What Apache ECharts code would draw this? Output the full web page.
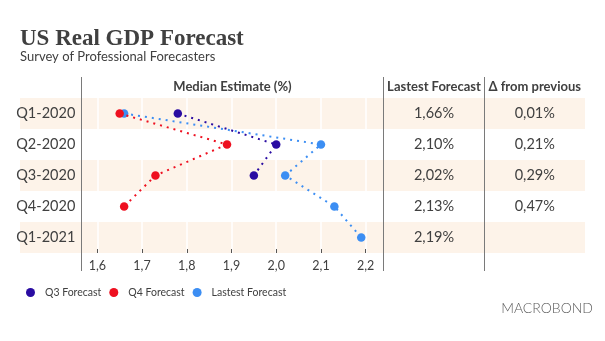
<!DOCTYPE html>
<html>
<head>
<meta charset="utf-8">
<script src="https://cdn.jsdelivr.net/npm/echarts@6/dist/echarts.min.js"></script>
<style>
  html, body { margin: 0; padding: 0; background: #ffffff; }
  #chart { width: 605px; height: 341px; }
</style>
</head>
<body>
<div id="chart"></div>
<script>
// Quarters shown as table rows
const quarters = ['Q1-2020', 'Q2-2020', 'Q3-2020', 'Q4-2020', 'Q1-2021'];

// Median estimates (%) from each survey round
const q3Forecast = [1.78, 2.00, 1.95, null, null];
const q4Forecast = [1.65, 1.89, 1.73, 1.66, null];
const latestForecast = [1.66, 2.10, 2.02, 2.13, 2.19];

// Change of latest forecast versus previous round
const deltaFromPrevious = [0.01, 0.21, 0.29, 0.47, null];

// Value axis ticks
const axisTicks = [1.6, 1.7, 1.8, 1.9, 2.0, 2.1, 2.2];

const TEXT = '#404040';
const BAND = '#fdf3e9';
const FONT = 'Lato, "Noto Sans", sans-serif';
const COL = { COLOR_Q3: '#2a0ca2', COLOR_Q4: '#ee1020', COLOR_LATEST: '#3c8ef3' };

const fmt = (v) => v.toFixed(2).replace('.', ',') + '%';

const chart = echarts.init(document.getElementById('chart'), null, { renderer: 'canvas' });

function dotted(name, data, color, z) {
  return {
    name: name,
    type: 'line',
    data: data,
    z: z,
    symbol: 'circle',
    symbolSize: 8.5,
    showSymbol: true,
    connectNulls: false,
    itemStyle: { color: color },
    lineStyle: { color: color, width: 2, type: [2, 5] },
    emphasis: { disabled: true },
    animation: false
  };
}

chart.setOption({
  animation: false,
  grid: { left: 97.3, right: 239.3, top: 98, height: 155, containLabel: false },
  xAxis: {
    type: 'value',
    min: axisTicks[0],
    max: axisTicks[axisTicks.length - 1],
    interval: 0.1,
    axisLine: { show: false },
    axisTick: { show: true, inside: true, length: 4, lineStyle: { color: '#555', width: 1 } },
    splitLine: { show: true, lineStyle: { color: '#ffffff', width: 1.5 } },
    axisLabel: {
      color: TEXT, fontFamily: FONT, fontSize: 12.5, margin: 6,
      formatter: (v) => v.toFixed(1).replace('.', ',')
    }
  },
  yAxis: {
    type: 'category',
    data: quarters,
    inverse: true,
    axisLine: { show: false },
    axisTick: { show: false },
    splitLine: { show: false },
    axisLabel: { color: TEXT, fontFamily: FONT, fontSize: 14.5, margin: 22 }
  },
  legend: {
    left: 21, top: 282,
    icon: 'circle', itemWidth: 9, itemHeight: 9, itemGap: 8,
    textStyle: { color: TEXT, fontFamily: FONT, fontSize: 10.5, padding: [0, 0, 0, 5] },
    data: ['Q3 Forecast', 'Q4 Forecast', 'Lastest Forecast']
  },
  series: [
    dotted('Lastest Forecast', latestForecast, COL.COLOR_LATEST, 2),
    dotted('Q3 Forecast', q3Forecast, COL.COLOR_Q3, 3),
    dotted('Q4 Forecast', q4Forecast, COL.COLOR_Q4, 4)
  ]
});

// Table decorations: row bands, column separators, headers, value columns
const colLeft = 20, colRight = 585;
const sep = [81.5, 383.5, 484.5];
const headerY = 87;
const rowH = chart.convertToPixel({ yAxisIndex: 0 }, quarters[1]) - chart.convertToPixel({ yAxisIndex: 0 }, quarters[0]);
const elements = [];

quarters.forEach((q, i) => {
  const cy = chart.convertToPixel({ yAxisIndex: 0 }, q);
  if (i % 2 === 0) {
    elements.push({
      type: 'rect', z: -10, silent: true,
      shape: { x: colLeft, y: cy - rowH / 2, width: colRight - colLeft, height: rowH },
      style: { fill: BAND }
    });
  }
  elements.push({
    type: 'text', z: 10, silent: true,
    x: (sep[1] + sep[2]) / 2, y: cy,
    style: { text: fmt(latestForecast[i]), fill: TEXT, font: '14.5px ' + FONT, align: 'center', verticalAlign: 'middle' }
  });
  if (deltaFromPrevious[i] !== null) {
    elements.push({
      type: 'text', z: 10, silent: true,
      x: (sep[2] + colRight) / 2, y: cy,
      style: { text: fmt(deltaFromPrevious[i]), fill: TEXT, font: '14.5px ' + FONT, align: 'center', verticalAlign: 'middle' }
    });
  }
});

sep.forEach((x) => {
  elements.push({
    type: 'line', z: 10, silent: true,
    shape: { x1: x, y1: 77, x2: x, y2: 271 },
    style: { stroke: '#7a7a7a', lineWidth: 1 }
  });
});

const headers = [
  ['Median Estimate (%)', (sep[0] + sep[1]) / 2],
  ['Lastest Forecast', (sep[1] + sep[2]) / 2],
  ['\u0394 from previous', (sep[2] + colRight) / 2]
];
headers.forEach(([t, x]) => {
  elements.push({
    type: 'text', z: 10, silent: true, x: x, y: headerY,
    style: { text: t, fill: TEXT, font: 'bold 13px ' + FONT, align: 'center', verticalAlign: 'middle' }
  });
});

// Title block
elements.push({
  type: 'text', z: 10, silent: true, x: 20, y: 39,
  style: { text: 'US Real GDP Forecast', fill: TEXT, font: 'bold 23px "Liberation Serif", serif', verticalAlign: 'middle' }
});
elements.push({
  type: 'text', z: 10, silent: true, x: 20, y: 57,
  style: { text: 'Survey of Professional Forecasters', fill: TEXT, font: '13px ' + FONT, verticalAlign: 'middle' }
});

// Brand mark
elements.push({
  type: 'text', z: 10, silent: true, x: 593, y: 308,
  style: { text: 'MACROBOND', fill: '#5a5a5a', font: '300 14px ' + FONT, align: 'right', verticalAlign: 'middle', letterSpacing: 5 }
});

chart.setOption({ graphic: { elements: elements } });
</script>
</body>
</html>
